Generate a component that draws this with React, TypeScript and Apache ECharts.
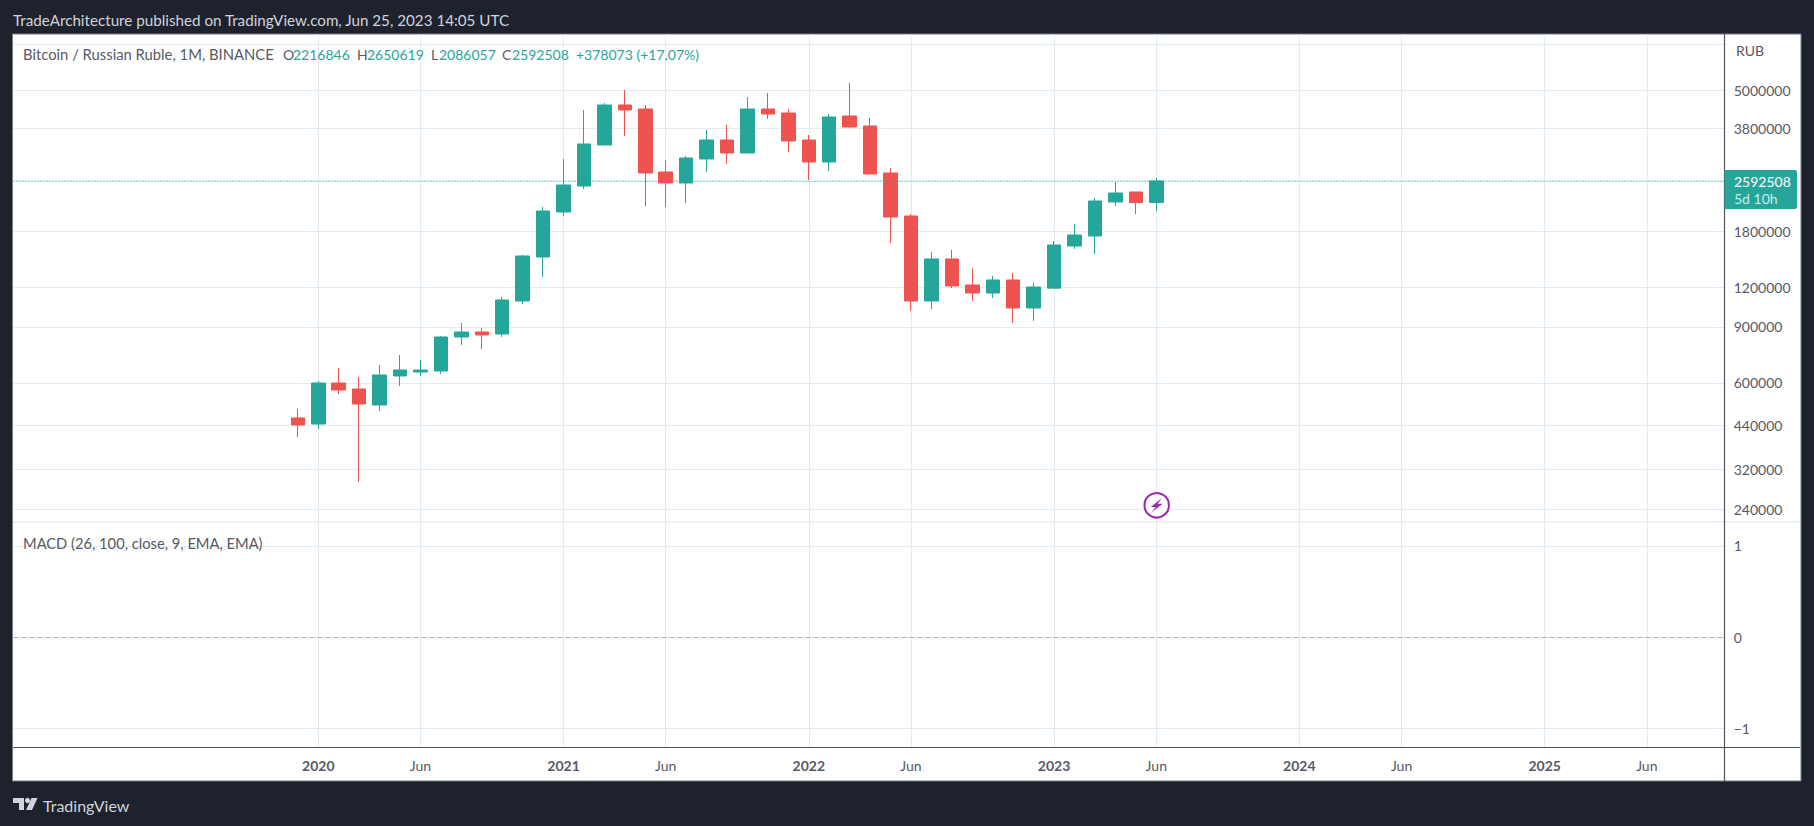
import React, { useEffect, useRef } from "react";
import * as echarts from "echarts";

// month index: 0 = Dec 2019. Each row: [month, open, close, low, high]
const candles: number[][] = [
  [0, 465300, 442200, 405400, 496600],
  [1, 445400, 599500, 430000, 608300],
  [2, 599500, 569900, 553600, 668500],
  [3, 574100, 514900, 292600, 626200],
  [4, 511200, 635400, 489400, 683100],
  [5, 630800, 658800, 586600, 734400],
  [6, 649300, 658800, 630800, 708300],
  [7, 654000, 836800, 640000, 842800],
  [8, 836800, 867600, 789700, 926000],
  [9, 867600, 849000, 767200, 893200],
  [10, 855100, 1094100, 836800, 1118100],
  [11, 1086200, 1505000, 1062800, 1515900],
  [12, 1494000, 2085000, 1292400, 2146400],
  [13, 2069900, 2517400, 2010900, 3039500],
  [14, 2499200, 3388200, 2445600, 4334800],
  [15, 3363800, 4494800, 3363800, 4560400],
  [16, 4494800, 4334800, 3590500, 5010900],
  [17, 4366800, 2746000, 2162000, 4494800],
  [18, 2765900, 2554100, 2146400, 3017300],
  [19, 2554100, 3061700, 2209500, 3106100],
  [20, 3039500, 3487900, 2765900, 3750000],
  [21, 3487900, 3174300, 2931100, 3888400],
  [22, 3174300, 4366800, 3174300, 4763200],
  [23, 4366800, 4210900, 4061400, 4903900],
  [24, 4241600, 3462700, 3197300, 4366800],
  [25, 3487900, 2973800, 2610200, 3616600],
  [26, 2973800, 4120400, 2786100, 4210900],
  [27, 4150400, 3832400, 3804700, 5271700],
  [28, 3860300, 2726200, 2726200, 4091100],
  [29, 2746000, 1996300, 1653600, 2847700],
  [30, 2010900, 1086200, 1010300, 2040200],
  [31, 1086200, 1472700, 1025100, 1549100],
  [32, 1472700, 1210900, 1192000, 1571800],
  [33, 1219700, 1151000, 1086200, 1379700],
  [34, 1151000, 1264700, 1110200, 1301900],
  [35, 1264700, 1032600, 926000, 1330500],
  [36, 1032600, 1202100, 939600, 1237500],
  [37, 1192000, 1629800, 1192000, 1677700],
  [38, 1618000, 1752300, 1583300, 1897600],
  [39, 1739600, 2241800, 1526900, 2291300],
  [40, 2225500, 2375600, 2162000, 2572600],
  [41, 2392800, 2216846, 2040200, 2392800],
  [42, 2216846, 2592508, 2086057, 2650619],
];
const lastClose = 2592508;

const timeTicks = [1, 6, 13, 18, 25, 30, 37, 42, 49, 54, 61, 66];
const timeLabels = ["2020", "Jun", "2021", "Jun", "2022", "Jun", "2023", "Jun", "2024", "Jun", "2025", "Jun"];
const priceGrid = [240000, 320000, 440000, 600000, 900000, 1200000, 1800000, 2600000, 3800000, 5000000, 7000000];
const priceLabels = [240000, 320000, 440000, 600000, 900000, 1200000, 1800000, 3800000, 5000000];
const macdTicks = [-1, 0, 1];

const UP = "#26a69a";
const DOWN = "#ef5350";
const GRID = "#e1ecf2";
const AXIS = "#50535e";
const TEXT = "#565964";
const FONT = "Lato";

const X_MIN = -13.91;
const X_MAX = 69.81;

function text(t: string, x: number, y: number, fill: string, size = 14, extra: any = {}) {
  return {
    type: "text",
    x,
    y,
    silent: true,
    style: { text: t, fill, font: `${extra.weight || "normal"} ${size}px ${FONT}`, textAlign: extra.align || "left", textVerticalAlign: "middle" },
    z: 20,
  };
}

export default function App() {
  const ref = useRef<HTMLDivElement>(null);
  useEffect(() => {
    const chart = echarts.init(ref.current!, undefined, { renderer: "svg" });
    const xBase = {
      type: "value",
      min: X_MIN,
      max: X_MAX,
      axisLine: { show: false },
      axisTick: { show: false, customValues: timeTicks },
      splitLine: { show: true, lineStyle: { color: GRID, width: 1 } },
    };
    chart.setOption({
      animation: false,
      backgroundColor: "#1e222d",
      textStyle: { fontFamily: FONT },
      grid: [
        { left: 13.5, right: 1814 - 1724.7, top: 34.7, height: 487.3, containLabel: false },
        { left: 13.5, right: 1814 - 1724.7, top: 522, height: 225.3, containLabel: false },
      ],
      xAxis: [
        { ...xBase, gridIndex: 0, axisLabel: { show: false } },
        {
          ...xBase,
          gridIndex: 1,
          axisLabel: {
            show: true,
            customValues: timeTicks,
            margin: 11,
            color: TEXT,
            fontFamily: FONT,
            fontSize: 14,
            hideOverlap: false,
            formatter: (v: number) => {
              const s = timeLabels[timeTicks.indexOf(Math.round(v))] || "";
              return s === "Jun" ? s : `{y|${s}}`;
            },
            rich: { y: { fontWeight: "bold", fontSize: 14, color: TEXT, fontFamily: FONT } },
          },
        },
      ],
      yAxis: [
        {
          type: "log",
          logBase: 10,
          gridIndex: 0,
          position: "right",
          min: 218950,
          max: 7480500,
          axisLine: { show: false },
          axisTick: { show: false, customValues: priceGrid },
          splitLine: { show: true, lineStyle: { color: GRID, width: 1 } },
          axisLabel: { customValues: priceLabels, color: TEXT, fontFamily: FONT, fontSize: 14, margin: 9, formatter: (v: number) => String(Math.round(v)), showMinLabel: true, showMaxLabel: true },
        },
        {
          type: "value",
          gridIndex: 1,
          position: "right",
          min: -1.209,
          max: 1.261,
          axisLine: { show: false },
          axisTick: { show: false, customValues: macdTicks },
          splitLine: { show: true, lineStyle: { color: GRID, width: 1 } },
          axisLabel: { customValues: macdTicks, color: TEXT, fontFamily: FONT, fontSize: 14, margin: 9, formatter: (v: number) => String(v).replace("-", "\u2212") },
        },
      ],
      series: [
        {
          type: "candlestick",
          xAxisIndex: 0,
          yAxisIndex: 0,
          barWidth: 14,
          data: candles,
          encode: { x: 0, y: [1, 2, 3, 4] },
          itemStyle: { color: UP, color0: DOWN, borderColor: UP, borderColor0: DOWN, borderWidth: 1 },
          markLine: {
            silent: true,
            symbol: "none",
            label: { show: false },
            lineStyle: { color: UP, type: [1, 2], width: 1, opacity: 1 },
            data: [{ yAxis: lastClose }],
          },
        },
        {
          type: "line",
          xAxisIndex: 1,
          yAxisIndex: 1,
          data: [],
          markLine: {
            silent: true,
            symbol: "none",
            label: { show: false },
            lineStyle: { color: "#acafb6", type: [5, 3], width: 1, opacity: 1 },
            data: [{ yAxis: 0 }],
          },
        },
      ],
      graphic: [
        { type: "rect", shape: { x: 12.5, y: 34, width: 1788.5, height: 747 }, style: { fill: "#ffffff", stroke: "#787b86", lineWidth: 1 }, silent: true, z: -10 },
        { type: "line", shape: { x1: 13, y1: 522, x2: 1800, y2: 522 }, style: { stroke: "#e0e3eb", lineWidth: 1 }, silent: true, z: 10 },
        { type: "line", shape: { x1: 13, y1: 747.5, x2: 1800, y2: 747.5 }, style: { stroke: AXIS, lineWidth: 1 }, silent: true, z: 10 },
        { type: "line", shape: { x1: 1724.5, y1: 34, x2: 1724.5, y2: 781 }, style: { stroke: AXIS, lineWidth: 1.2 }, silent: true, z: 10 },
        text("TradeArchitecture published on TradingView.com, Jun 25, 2023 14:05 UTC", 13, 20, "#d1d4dc", 15.2),
        text("Bitcoin / Russian Ruble, 1M, BINANCE", 23, 54, TEXT, 14.8),
        text("O", 283, 54, TEXT),
        text("2216846", 293, 54, UP),
        text("H", 357, 54, TEXT),
        text("2650619", 367, 54, UP),
        text("L", 431, 54, TEXT),
        text("2086057", 439, 54, UP),
        text("C", 502, 54, TEXT),
        text("2592508", 512, 54, UP),
        text("+378073 (+17.07%)", 576, 54, UP),
        text("MACD (26, 100, close, 9, EMA, EMA)", 23, 543, TEXT, 14.7),
        text("RUB", 1736, 50, TEXT),
        { type: "rect", shape: { x: 1724.5, y: 170, width: 72.5, height: 39, r: [0, 2, 2, 0] }, style: { fill: UP }, silent: true, z: 15 },
        text("2592508", 1734, 181, "#ffffff", 14),
        text("5d 10h", 1734, 198, "#c8ede8", 14),
        { type: "circle", shape: { cx: 1156.7, cy: 505.3, r: 12.2 }, style: { fill: "#ffffff", stroke: "#9c27b0", lineWidth: 2 }, silent: true, z: 12 },
        { type: "polygon", shape: { points: [[5, -7], [-6, 1.6], [-1, 1.6], [-5, 7], [6, -1.6], [1, -1.6]] }, x: 1156.7, y: 505.3, style: { fill: "#9c27b0" }, silent: true, z: 13 },
        { type: "polygon", shape: { points: [[13, 798], [24, 798], [24, 810], [19, 810], [19, 803], [13, 803]] }, style: { fill: "#d1d4dc" }, silent: true },
        { type: "circle", shape: { cx: 27.5, cy: 800.5, r: 2.6 }, style: { fill: "#d1d4dc" }, silent: true },
        { type: "polygon", shape: { points: [[31.5, 798], [37.5, 798], [32, 810], [26, 810]] }, style: { fill: "#d1d4dc" }, silent: true },
        text("TradingView", 43, 805, "#d1d4dc", 16),
      ],
    });
    return () => chart.dispose();
  }, []);
  return <div ref={ref} style={{ position: "absolute", left: 0, top: 0, width: 1814, height: 826 }} />;
}
